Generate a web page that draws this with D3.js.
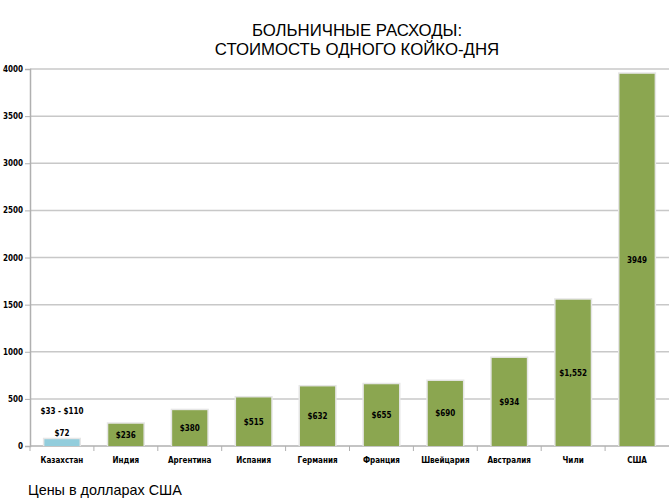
<!DOCTYPE html>
<html><head><meta charset="utf-8">
<script src="https://cdn.jsdelivr.net/npm/d3@7"></script>
<style>body{margin:0;background:#fff}svg{display:block}</style>
</head><body>
<script>
const categories = ["Казахстан","Индия","Аргентина","Испания","Германия","Франция","Швейцария","Австралия","Чили","США"];
const values = [72,236,380,515,632,655,690,934,1552,3949];
const labels = ["$72","$236","$380","$515","$632","$655","$690","$934","$1,552","3949"];
const yTicks = [0,500,1000,1500,2000,2500,3000,3500,4000];
const titleLines = ["БОЛЬНИЧНЫЕ РАСХОДЫ:","СТОИМОСТЬ ОДНОГО КОЙКО-ДНЯ"];
const rangeNote = "$33 - $110";
const footer = "Цены в долларах США";

(function(){
const W=669,H=500;
const svg=d3.select("body").append("svg").attr("width",W).attr("height",H);
const mLeft=30,mRight=669,mTop=69,mBottom=446;
const x=d3.scaleBand().domain(categories).range([mLeft,mRight]).paddingInner(0.45).paddingOuter(0.225);
const xb=d3.scaleBand().domain(categories).range([mLeft,mRight]);
const y=d3.scaleLinear().domain([0,4000]).range([mBottom,mTop]);
const lblFont="'DejaVu Sans Condensed', 'DejaVu Sans', Tahoma, sans-serif";

svg.append("g").selectAll("line").data(yTicks.filter(d=>d>0)).join("line")
 .attr("x1",mLeft).attr("x2",mRight).attr("y1",d=>y(d)).attr("y2",d=>y(d))
 .attr("stroke","#c8c8c8").attr("stroke-width",1.5);

const ya=svg.append("g").attr("transform",`translate(${mLeft},0)`)
 .call(d3.axisLeft(y).tickValues(yTicks).tickSize(5).tickFormat(d3.format("d")));
ya.select(".domain").attr("stroke","#b0b0b0").attr("stroke-width",1.5);
ya.selectAll(".tick line").attr("stroke","#b0b0b0");
ya.selectAll("text").attr("font-family",lblFont).attr("font-weight","bold").attr("font-size",8).attr("fill","#000").attr("x",-7);

const xa=svg.append("g").attr("transform",`translate(0,${mBottom})`);
xa.append("line").attr("x1",mLeft).attr("x2",mRight).attr("stroke","#b0b0b0").attr("stroke-width",1.5);
xa.selectAll("line.tk").data(categories).join("line").attr("class","tk")
 .attr("x1",d=>xb(d)).attr("x2",d=>xb(d)).attr("y1",0).attr("y2",5).attr("stroke","#b0b0b0");
xa.selectAll("text").data(categories).join("text")
 .attr("x",d=>x(d)+x.bandwidth()/2).attr("y",17).attr("text-anchor","middle")
 .attr("font-family",lblFont).attr("font-weight","bold").attr("font-size",8).attr("fill","#000").text(d=>d);

const data=categories.map((c,i)=>({c,v:values[i],l:labels[i],i}));
svg.append("g").selectAll("rect").data(data).join("rect")
 .attr("x",d=>x(d.c)-1.5).attr("y",d=>y(d.v)-1.5).attr("width",x.bandwidth()+3).attr("height",d=>mBottom-y(d.v)+1.5)
 .attr("fill","#e6e6e6");
svg.append("g").selectAll("rect").data(data).join("rect")
 .attr("x",d=>x(d.c)).attr("y",d=>y(d.v)).attr("width",x.bandwidth()).attr("height",d=>mBottom-y(d.v))
 .attr("fill",d=>d.i===0?"#92cddc":"#8ba650");

svg.append("g").selectAll("text").data(data).join("text")
 .attr("x",d=>x(d.c)+x.bandwidth()/2)
 .attr("y",d=>d.i===0?y(d.v)-3:(y(d.v)+mBottom)/2+3)
 .attr("text-anchor","middle").attr("font-family",lblFont).attr("font-weight","bold").attr("font-size",8).attr("fill","#000")
 .text(d=>d.l);
svg.append("text").attr("x",x(categories[0])+x.bandwidth()/2).attr("y",y(values[0])-25)
 .attr("text-anchor","middle").attr("font-family",lblFont).attr("font-weight","bold").attr("font-size",8).text(rangeNote);

svg.append("g").selectAll("text").data(titleLines).join("text")
 .attr("x",357).attr("y",(d,i)=>36+i*19).attr("text-anchor","middle")
 .attr("font-family","'Liberation Sans', Arial, sans-serif").attr("font-size",16.8).attr("fill","#000").text(d=>d);

svg.append("text").attr("x",28).attr("y",495).attr("font-family","'Liberation Sans', Arial, sans-serif").attr("font-size",14.4).text(footer);
})();
</script>
</body></html>
